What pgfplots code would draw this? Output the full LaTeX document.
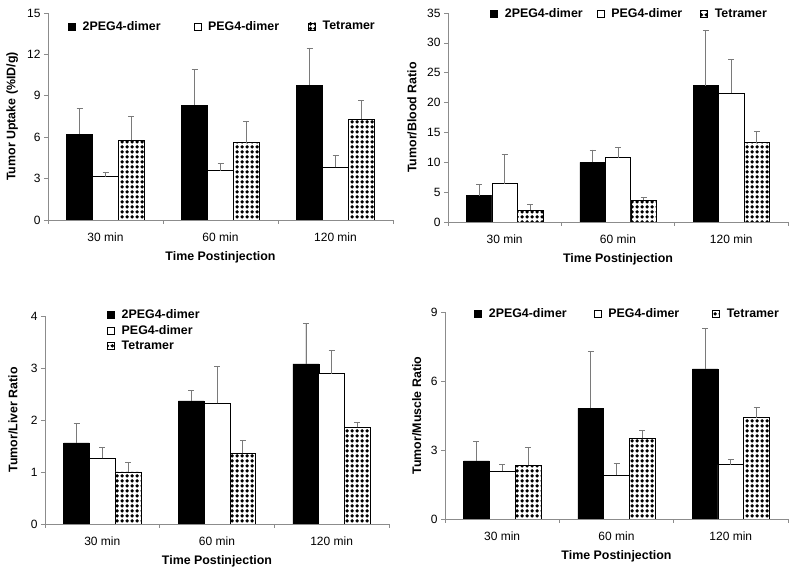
\documentclass[border=0pt]{standalone}
\usepackage{fontspec}
\setmainfont{Liberation Sans}
\usepackage{pgfplots}
\pgfplotsset{compat=1.18}
\usetikzlibrary{patterns}

\pgfdeclarepatternformonly{balls}{\pgfqpoint{0pt}{0pt}}{\pgfqpoint{4.6pt}{4.6pt}}{\pgfqpoint{4.6pt}{4.6pt}}%
  {\pgfpathcircle{\pgfqpoint{2.3pt}{2.3pt}}{1.95pt}\pgfusepath{fill}}

\definecolor{axgray}{HTML}{8C8C8C}
\definecolor{ebgray}{HTML}{7A7A7A}
\newcommand{\gap}[1]{\rule{#1}{0pt}}

\pgfplotsset{
  panel/.style={
    scale only axis, ybar=0pt, bar width=0.225,
    xmin=-0.5, xmax=2.5, ymin=0,
    xtick={-0.5,0.5,1.5,2.5}, xticklabels={30 min,60 min,120 min},
    x tick label as interval,
    axis x line*=bottom, axis y line*=left,
    axis line style={draw=axgray, line width=0.6pt},
    tick style={draw=axgray, line width=0.6pt},
    tick align=outside, major tick length=4pt,
    ticklabel style={font=\fontsize{12}{14}\selectfont},
    xticklabel style={yshift=-5pt},
    /pgf/number format/assume math mode=true,
    xlabel={Time Postinjection},
    xlabel style={at={(axis description cs:0.5,0)}, anchor=center, yshift=-37pt},
    label style={font=\bfseries\fontsize{12.4}{14}\selectfont},
    legend style={draw=none, fill=none, inner sep=0pt,
      font=\bfseries\fontsize{12.4}{14}\selectfont},
    legend cell align=left,
    legend image code/.code={\draw[##1] (0pt,-3.5pt) rectangle (7pt,3.5pt); \path (12pt,0pt);},
  },
  eb/.style={error bars/.cd, y dir=plus, y explicit,
    error bar style={draw=ebgray, line width=0.7pt},
    error mark options={rotate=90, mark size=3pt, draw=ebgray, line width=0.7pt}},
  s1/.style={fill=black, draw=black, line width=0.5pt, eb},
  s2/.style={fill=white, draw=black, line width=0.6pt, eb},
  s3/.style={fill=white, draw=black, line width=0.5pt, postaction={pattern=balls}, eb},
}

\begin{document}
\begin{tikzpicture}
\useasboundingbox (0,0) rectangle (800pt,569pt);

% tumor uptake
\begin{axis}[panel, at={(48pt,349pt)}, anchor=south west, width=345pt, height=207pt,
  ymax=15, ytick={0,3,...,15}, ylabel={Tumor Uptake (\%ID/g)},
  ylabel style={at={(axis description cs:-0.104,0.5)}, anchor=center},
  legend columns=3,
  legend style={at={(axis description cs:0.058,0.935)}, anchor=west}]
  \addplot[s1] coordinates {(0,6.22) +- (0,1.86) (1,8.32) +- (0,2.58) (2,9.77) +- (0,2.70)};
  \addplot[s2] coordinates {(0,3.13) +- (0,0.32) (1,3.57) +- (0,0.53) (2,3.81) +- (0,0.87)};
  \addplot[s3] coordinates {(0,5.79) +- (0,1.71) (1,5.60) +- (0,1.56) (2,7.31) +- (0,1.35)};
  \legend{2PEG4-dimer\gap{31pt}, PEG4-dimer\gap{27pt}, Tetramer}
\end{axis}

% tumor/blood
\begin{axis}[panel, at={(448pt,347pt)}, anchor=south west, width=340pt, height=209pt,
  ymax=35, ytick={0,5,...,35}, ylabel={Tumor/Blood Ratio},
  ylabel style={at={(axis description cs:-0.106,0.5)}, anchor=center},
  legend columns=3,
  legend style={at={(axis description cs:0.124,0.995)}, anchor=west}]
  \addplot[s1] coordinates {(0,4.41) +- (0,1.84) (1,9.99) +- (0,2.07) (2,22.84) +- (0,9.21)};
  \addplot[s2] coordinates {(0,6.42) +- (0,4.86) (1,10.78) +- (0,1.72) (2,21.60) +- (0,5.59)};
  \addplot[s3] coordinates {(0,2.00) +- (0,0.90) (1,3.69) +- (0,0.50) (2,13.29) +- (0,1.90)};
  \legend{2PEG4-dimer\gap{12pt}, PEG4-dimer\gap{16pt}, Tetramer}
\end{axis}

% tumor/liver
\begin{axis}[panel, at={(45pt,45pt)}, anchor=south west, width=344pt, height=208pt,
  ymax=4, ytick={0,1,...,4}, ylabel={Tumor/Liver Ratio},
  ylabel style={at={(axis description cs:-0.093,0.5)}, anchor=center},
  legend style={at={(axis description cs:0.18,1.043)}, anchor=north west,
    /tikz/row sep=1.5pt}]
  \addplot[s1] coordinates {(0,1.56) +- (0,0.37) (1,2.37) +- (0,0.20) (2,3.08) +- (0,0.77)};
  \addplot[s2] coordinates {(0,1.26) +- (0,0.21) (1,2.32) +- (0,0.72) (2,2.89) +- (0,0.44)};
  \addplot[s3] coordinates {(0,1.00) +- (0,0.18) (1,1.36) +- (0,0.25) (2,1.86) +- (0,0.10)};
  \legend{2PEG4-dimer, PEG4-dimer, Tetramer}
\end{axis}

% tumor/muscle
\begin{axis}[panel, at={(445pt,50pt)}, anchor=south west, width=343pt, height=207pt,
  ymax=9, ytick={0,3,...,9}, ylabel={Tumor/Muscle Ratio},
  ylabel style={at={(axis description cs:-0.082,0.5)}, anchor=center},
  legend columns=3,
  legend style={at={(axis description cs:0.085,0.99)}, anchor=west}]
  \addplot[s1] coordinates {(0,2.53) +- (0,0.85) (1,4.81) +- (0,2.46) (2,6.53) +- (0,1.74)};
  \addplot[s2] coordinates {(0,2.08) +- (0,0.28) (1,1.91) +- (0,0.50) (2,2.36) +- (0,0.24)};
  \addplot[s3] coordinates {(0,2.33) +- (0,0.78) (1,3.51) +- (0,0.35) (2,4.41) +- (0,0.45)};
  \legend{2PEG4-dimer\gap{25pt}, PEG4-dimer\gap{31pt}, Tetramer}
\end{axis}
\end{tikzpicture}
\end{document}
